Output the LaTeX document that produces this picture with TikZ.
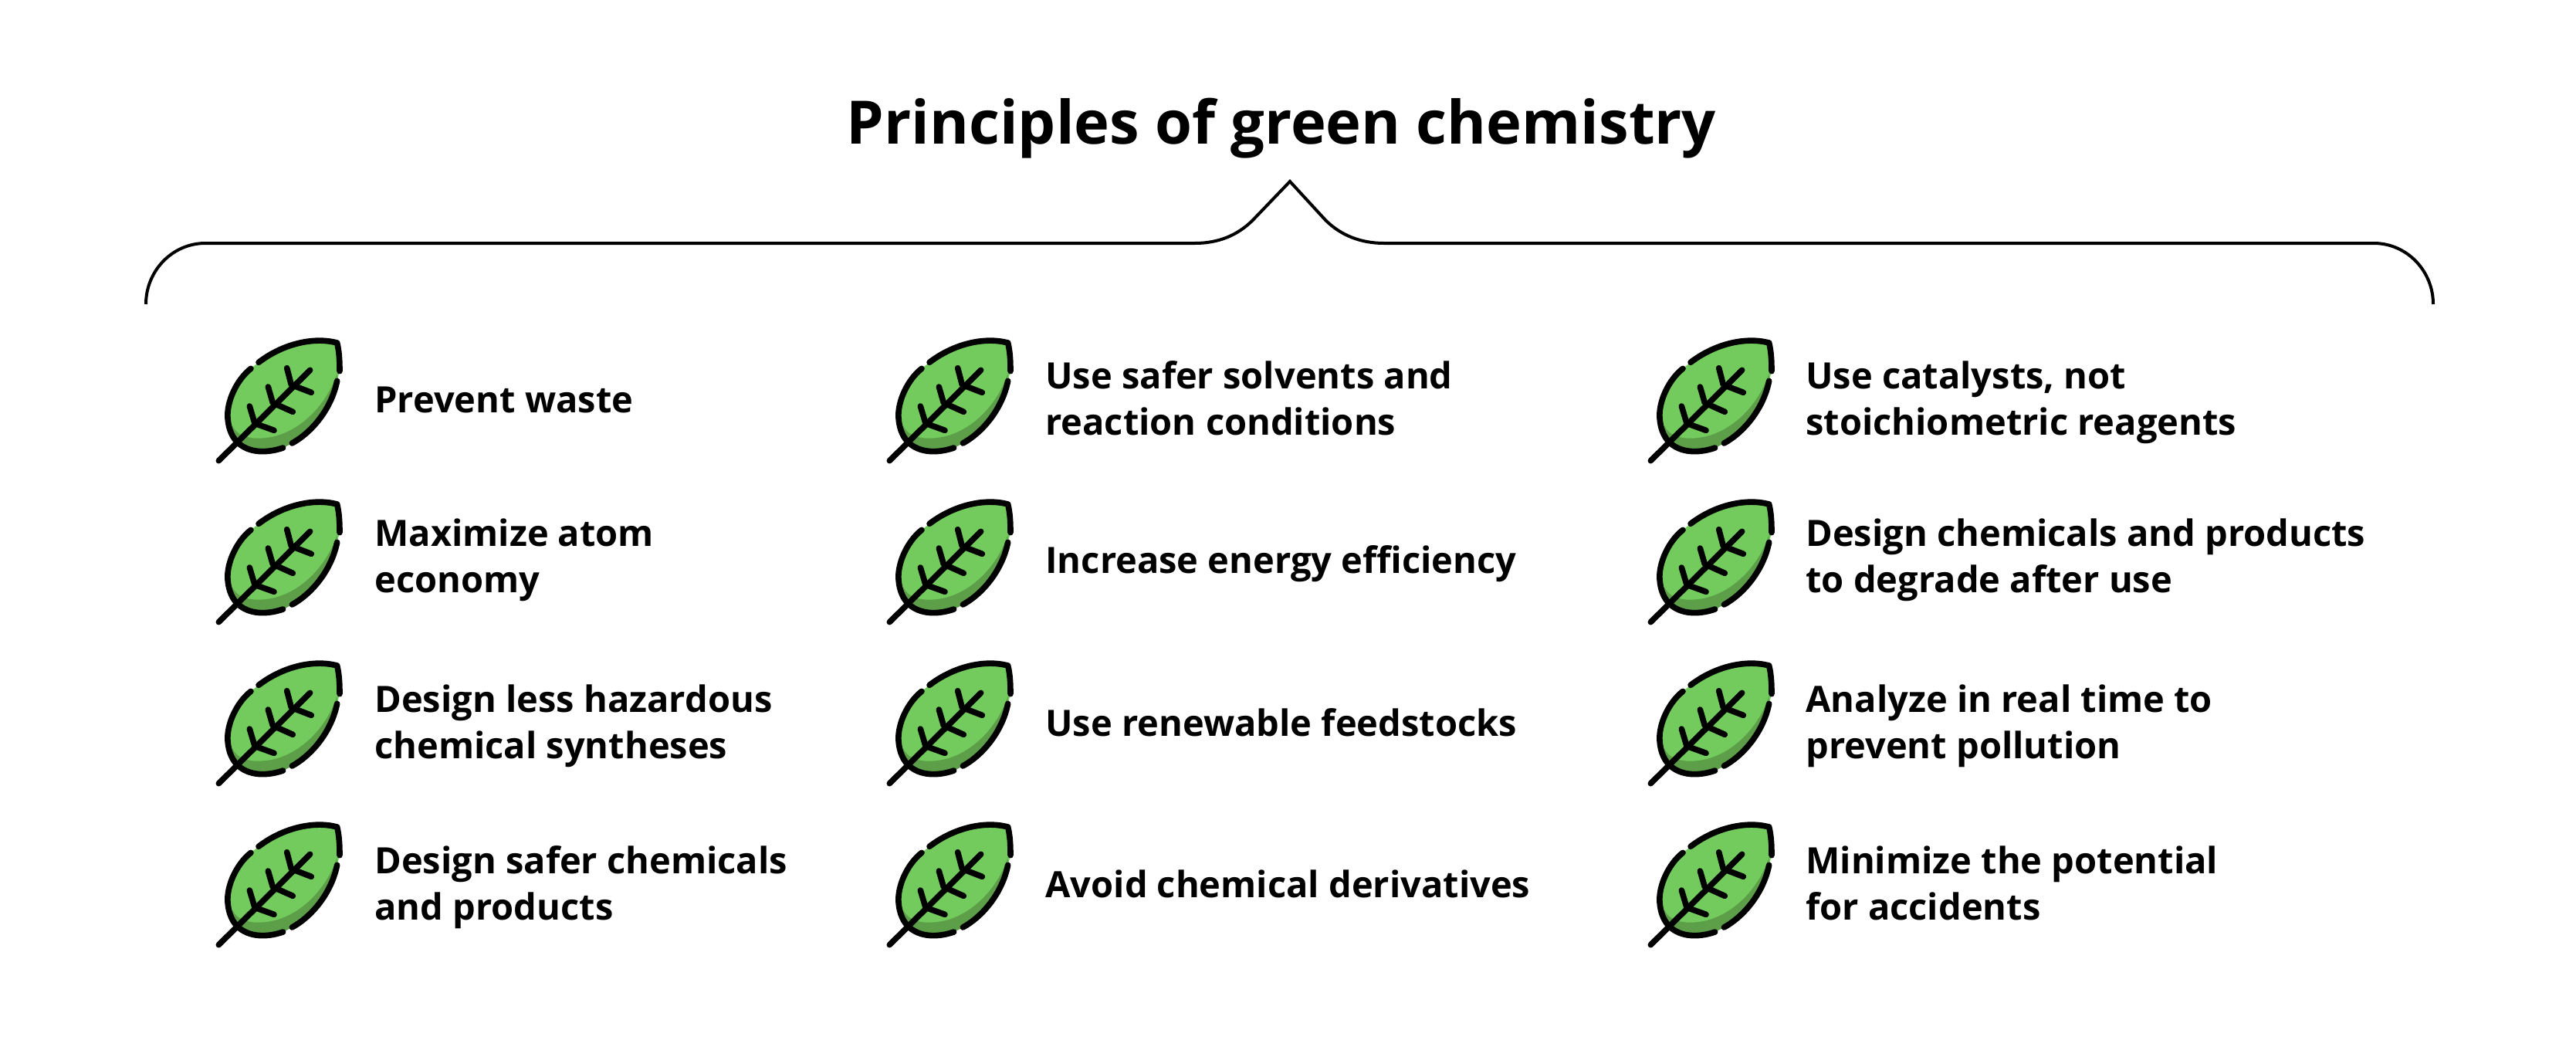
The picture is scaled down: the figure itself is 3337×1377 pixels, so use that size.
\documentclass[tikz,border=0pt]{standalone}
\usepackage{fontspec}
\setmainfont{Open Sans}
\definecolor{leafgreen}{HTML}{72CB5C}
\definecolor{leafdark}{HTML}{5C9F48}
\tikzset{
  lbl/.style={anchor=base west,align=left,inner sep=0pt,font=\fontsize{23.5}{29.7}\selectfont\bfseries,text=black},
  ttl/.style={anchor=base,inner sep=0pt,font=\fontsize{38.8}{48}\selectfont\bfseries,text=black},
  brace/.style={draw=black,line width=2pt,line join=miter},
  leafline/.style={draw=black,line width=3.8pt,line cap=round,line join=round},
  leaf/.pic={
    \begin{scope}[x=0.16667pt,y=-0.16667pt]
    \fill[leafgreen] (530,72) .. controls (440,48) and (320,75) .. (225,148) -- (195,172)
       .. controls (140,215) and (100,300) .. (105,365) .. controls (108,410) and (125,445) .. (150,465)
       .. controls (200,505) and (270,497) .. (320,480) -- (355,462)
       .. controls (440,415) and (510,320) .. (530,220) -- (540,182) .. controls (540,140) and (538,105) .. (530,72) -- cycle;
    \fill[leafdark] (122,392) .. controls (145,445) and (215,450) .. (280,437) .. controls (400,410) and (495,300) .. (530,190)
       -- (530,220) .. controls (510,320) and (440,415) .. (355,462) -- (320,480) .. controls (270,497) and (200,505) .. (150,465)
       .. controls (135,450) and (125,425) .. (122,392) -- cycle;
    \draw[leafline] (225,148) .. controls (320,75) and (440,48) .. (530,72) .. controls (538,105) and (540,140) .. (540,182);
    \draw[leafline] (530,220) .. controls (510,320) and (440,415) .. (355,462);
    \draw[leafline] (320,480) .. controls (270,497) and (200,505) .. (150,465) .. controls (125,445) and (108,410) .. (105,365) .. controls (100,300) and (140,215) .. (195,172);
    \draw[leafline] (70,530) -- (425,178);
    \draw[leafline] (335,170) -- (352,235) -- (430,265);
    \draw[leafline] (262,243) -- (280,305) -- (358,340);
    \draw[leafline] (190,318) -- (210,385) -- (285,412);
    \end{scope}
  }
}
\begin{document}
\begin{tikzpicture}[x=0.5pt,y=-0.5pt]
\useasboundingbox (0,0) rectangle (3337,1377);
\node[ttl] (title) at (1660,186) {Principles of green chemistry};
\draw[brace] (189,394) .. controls (189,351) and (223,315) .. (266,315) -- (1548,315)
  .. controls (1578,315) and (1603,305) .. (1623,285) -- (1671,235) -- (1717,285)
  .. controls (1737,305) and (1763,315) .. (1793,315) -- (3075,315)
  .. controls (3118,315) and (3152,351) .. (3152,394);
\foreach \cx in {260,1129,2115}{
  \foreach \cy in {420,629,838,1047}{
    \pic at (\cx,\cy) {leaf};
  }
}
\node[lbl] (a1) at (485,534) {Prevent waste};
\node[lbl] (a2) at (485,767) {Maximize atom\\economy};
\node[lbl] (a3) at (485,982) {Design less hazardous\\chemical syntheses};
\node[lbl] (a4) at (485,1191) {Design safer chemicals\\and products};
\node[lbl] (b1) at (1354,563) {Use safer solvents and\\reaction conditions};
\node[lbl] (b2) at (1354,742.5) {Increase energy efficiency};
\node[lbl] (b3) at (1354,953) {Use renewable feedstocks};
\node[lbl] (b4) at (1354,1162) {Avoid chemical derivatives};
\node[lbl] (c1) at (2339,563) {Use catalysts, not\\stoichiometric reagents};
\node[lbl] (c2) at (2339,767) {Design chemicals and products\\to degrade after use};
\node[lbl] (c3) at (2339,982) {Analyze in real time to\\prevent pollution};
\node[lbl] (c4) at (2339,1191) {Minimize the potential\\for accidents};
\end{tikzpicture}
\end{document}
